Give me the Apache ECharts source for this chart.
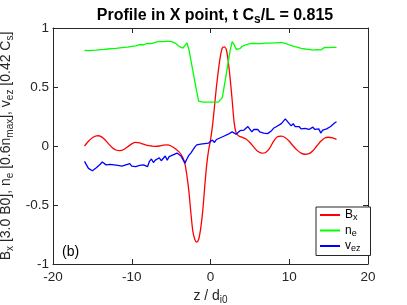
<!DOCTYPE html>
<html><head><meta charset="utf-8">
<script src="https://cdn.jsdelivr.net/npm/echarts@6/dist/echarts.min.js"></script>
<style>html,body{margin:0;padding:0;background:#fff}#c{width:407px;height:305px}</style>
</head><body><div id="c"></div>
<script>
var xTicks = [-20, -10, 0, 10, 20];
var yTicks = [-1, -0.5, 0, 0.5, 1];
var seriesNames = ['Bx', 'ne', 'vez'];

var bxData = [
[-16,0.0],[-15.5,0.04],[-15,0.07],[-14.5,0.085],[-14.25,0.087],[-14,0.084],[-13.5,0.06],[-13,0.022],[-12.5,-0.012],[-12,-0.034],[-11.5,-0.04],[-11,-0.03],[-10.5,-0.006],[-10,0.018],[-9.5,0.03],[-9,0.026],[-8.5,0.015],[-8,0.005],[-7.5,0.0],[-7,-0.004],[-6.5,0.0],[-6,0.008],[-5.5,0.01],[-5,0.0],[-4.5,-0.022],[-4,-0.05],[-3.75,-0.07],[-3.5,-0.1],[-3.25,-0.15],[-3,-0.25],[-2.75,-0.38],[-2.5,-0.56],[-2.25,-0.72],[-2,-0.79],[-1.75,-0.815],[-1.5,-0.79],[-1.25,-0.7],[-1,-0.56],[-0.75,-0.36],[-0.5,-0.17],[-0.25,-0.04],[0,0.05],[0.25,0.17],[0.5,0.33],[0.75,0.5],[1,0.64],[1.25,0.76],[1.5,0.83],[1.75,0.84],[2,0.82],[2.25,0.72],[2.5,0.57],[2.75,0.39],[3,0.2],[3.25,0.11],[3.5,0.09],[3.75,0.08],[4,0.075],[4.5,0.06],[5,0.03],[5.5,-0.01],[6,-0.045],[6.5,-0.06],[7,-0.055],[7.5,-0.02],[8,0.04],[8.5,0.078],[9,0.083],[9.5,0.07],[10,0.04],[10.5,0.0],[11,-0.035],[11.5,-0.06],[12,-0.07],[12.5,-0.065],[13,-0.04],[13.5,0.0],[14,0.04],[14.5,0.068],[15,0.074],[15.5,0.068],[16,0.057]
];

var neData = [
[-16,0.81],[-15.75,0.812],[-15.5,0.808],[-15.25,0.815],[-15,0.81],[-14.75,0.817],[-14.5,0.812],[-14.25,0.82],[-14,0.816],[-13.75,0.822],[-13.5,0.818],[-13.25,0.825],[-13,0.822],[-12.75,0.83],[-12.5,0.826],[-12.25,0.832],[-12,0.828],[-11.75,0.835],[-11.5,0.832],[-11.25,0.84],[-11,0.836],[-10.75,0.842],[-10.5,0.838],[-10.25,0.846],[-10,0.844],[-9.75,0.85],[-9.5,0.848],[-9.25,0.856],[-9,0.86],[-8.75,0.866],[-8.5,0.858],[-8.25,0.865],[-8,0.87],[-7.75,0.875],[-7.5,0.868],[-7.25,0.876],[-7,0.878],[-6.75,0.884],[-6.5,0.886],[-6.25,0.888],[-6,0.884],[-5.75,0.889],[-5.5,0.887],[-5.25,0.884],[-5,0.886],[-4.75,0.88],[-4.5,0.872],[-4.25,0.86],[-4,0.845],[-3.75,0.838],[-3.5,0.83],[-3.25,0.85],[-3,0.875],[-2.75,0.82],[-2.5,0.73],[-2.25,0.64],[-2,0.55],[-1.75,0.46],[-1.5,0.38],[-1.25,0.37],[-1,0.372],[-0.75,0.37],[-0.5,0.371],[-0.25,0.37],[0,0.372],[0.25,0.37],[0.5,0.371],[0.75,0.37],[1,0.372],[1.25,0.375],[1.5,0.41],[1.75,0.51],[2,0.61],[2.25,0.71],[2.5,0.81],[2.75,0.885],[3,0.86],[3.25,0.82],[3.5,0.812],[3.75,0.825],[4,0.845],[4.25,0.855],[4.5,0.858],[4.75,0.865],[5,0.868],[5.25,0.875],[5.5,0.87],[5.75,0.874],[6,0.868],[6.25,0.872],[6.5,0.868],[6.75,0.874],[7,0.872],[7.25,0.876],[7.5,0.872],[7.75,0.876],[8,0.874],[8.25,0.878],[8.5,0.874],[8.75,0.88],[9,0.878],[9.25,0.875],[9.5,0.87],[9.75,0.862],[10,0.856],[10.25,0.852],[10.5,0.846],[10.75,0.84],[11,0.838],[11.25,0.832],[11.5,0.828],[11.75,0.824],[12,0.822],[12.25,0.818],[12.5,0.818],[12.75,0.814],[13,0.812],[13.25,0.81],[13.5,0.816],[13.75,0.82],[14,0.814],[14.25,0.83],[14.5,0.836],[14.75,0.828],[15,0.834],[15.25,0.836],[15.5,0.835],[15.75,0.838],[16,0.836]
];

var vezData = [
[-16,-0.13],[-15.75,-0.16],[-15.5,-0.19],[-15.25,-0.205],[-15,-0.21],[-14.75,-0.2],[-14.5,-0.185],[-14.25,-0.17],[-14,-0.155],[-13.75,-0.135],[-13.5,-0.15],[-13.25,-0.16],[-13,-0.145],[-12.75,-0.155],[-12.5,-0.15],[-12.25,-0.16],[-12,-0.145],[-11.75,-0.165],[-11.5,-0.155],[-11.25,-0.17],[-11,-0.185],[-10.75,-0.16],[-10.5,-0.165],[-10.25,-0.15],[-10,-0.17],[-9.75,-0.155],[-9.5,-0.175],[-9.25,-0.16],[-9,-0.165],[-8.75,-0.175],[-8.5,-0.16],[-8.25,-0.17],[-8,-0.175],[-7.75,-0.13],[-7.5,-0.11],[-7.25,-0.14],[-7,-0.12],[-6.75,-0.13],[-6.5,-0.1],[-6.25,-0.125],[-6,-0.11],[-5.75,-0.085],[-5.5,-0.12],[-5.25,-0.09],[-5,-0.1],[-4.75,-0.075],[-4.5,-0.08],[-4.25,-0.06],[-4,-0.065],[-3.75,-0.085],[-3.5,-0.1],[-3.25,-0.145],[-3,-0.11],[-2.75,-0.08],[-2.5,-0.06],[-2.25,-0.035],[-2,-0.01],[-1.75,0.01],[-1.5,-0.005],[-1.25,0.015],[-1,0.005],[-0.75,0.02],[-0.5,0.01],[-0.25,0.025],[0,0.015],[0.25,0.05],[0.5,0.03],[0.75,0.055],[1,0.05],[1.25,0.07],[1.5,0.055],[1.75,0.085],[2,0.07],[2.25,0.1],[2.5,0.105],[2.75,0.12],[3,0.105],[3.25,0.1],[3.5,0.115],[3.75,0.13],[4,0.115],[4.25,0.135],[4.5,0.145],[4.75,0.165],[5,0.15],[5.25,0.12],[5.5,0.14],[5.75,0.125],[6,0.14],[6.25,0.12],[6.5,0.13],[6.75,0.11],[7,0.125],[7.25,0.105],[7.5,0.115],[7.75,0.13],[8,0.15],[8.25,0.14],[8.5,0.17],[8.75,0.165],[9,0.19],[9.25,0.2],[9.5,0.23],[9.75,0.215],[10,0.19],[10.25,0.17],[10.5,0.19],[10.75,0.165],[11,0.15],[11.25,0.165],[11.5,0.145],[11.75,0.13],[12,0.15],[12.25,0.135],[12.5,0.14],[12.75,0.125],[13,0.16],[13.25,0.14],[13.5,0.13],[13.75,0.145],[14,0.11],[14.25,0.135],[14.5,0.12],[14.75,0.145],[15,0.14],[15.25,0.165],[15.5,0.175],[15.75,0.195],[16,0.205]
];

var FONT = '"Liberation Sans", Arial, Helvetica, sans-serif';
var TXT = '#262626';
var axisLine = {show: true, onZero: false, lineStyle: {color: TXT, width: 1}};
var tickIn = {show: true, inside: true, length: 5, lineStyle: {color: TXT}};
var chart = echarts.init(document.getElementById('c'), null, {renderer: 'canvas'});
var legendLabels = {
  Bx: '{n|B}{s|x}',
  ne: '{n|n}{s|e}',
  vez: '{n|v}{s|ez}'
};
chart.setOption({
  animation: false,
  backgroundColor: '#fff',
  title: {
    text: '{t|Profile in X point, t C}{ts|s}{t|/L = 0.815}',
    left: 210, top: 0, textAlign: 'center',
    textStyle: {
      rich: {
        t: {fontFamily: FONT, fontWeight: 'bold', fontSize: 16, color: '#000'},
        ts: {fontFamily: FONT, fontWeight: 'bold', fontSize: 12, color: '#000', padding: [9, 0, 0, 0]}
      }
    }
  },
  grid: {left: 53, right: 39, top: 28, bottom: 41, containLabel: false, outerBoundsMode: 'none'},
  xAxis: [{
    type: 'value', min: xTicks[0], max: xTicks[xTicks.length - 1], interval: 10,
    axisLine: axisLine, axisTick: tickIn, splitLine: {show: false},
    axisLabel: {color: TXT, fontFamily: FONT, fontSize: 13.5, margin: 6},
    name: '{n|z / d}{s|i0}', nameLocation: 'middle', nameGap: 19,
    nameTextStyle: {rich: {
      n: {fontFamily: FONT, fontSize: 14, color: TXT},
      s: {fontFamily: FONT, fontSize: 10, color: TXT, padding: [8, 0, 0, 0]}
    }}
  }, {
    type: 'value', position: 'top', min: xTicks[0], max: xTicks[xTicks.length - 1], interval: 10,
    axisLine: axisLine, axisTick: tickIn, axisLabel: {show: false}, splitLine: {show: false}
  }],
  yAxis: [{
    type: 'value', min: yTicks[0], max: yTicks[yTicks.length - 1], interval: 0.5,
    axisLine: axisLine, axisTick: tickIn, splitLine: {show: false},
    axisLabel: {color: TXT, fontFamily: FONT, fontSize: 13.5, margin: 4},
    name: '{n|B}{s|x}{n| [3.0 B0], n}{s|e}{n| [0.6n}{s|max}{n|], v}{s|ez}{n| [0.42 C}{s|s}{n|]}',
    nameLocation: 'middle', nameRotate: 90, nameGap: 31,
    nameTextStyle: {rich: {
      n: {fontFamily: FONT, fontSize: 14, color: TXT},
      s: {fontFamily: FONT, fontSize: 10, color: TXT, padding: [8, 0, 0, 0]}
    }}
  }, {
    type: 'value', position: 'right', min: yTicks[0], max: yTicks[yTicks.length - 1], interval: 0.5,
    axisLine: axisLine, axisTick: tickIn, axisLabel: {show: false}, splitLine: {show: false}
  }],
  legend: {
    orient: 'vertical', left: 316, top: 207,
    data: seriesNames,
    icon: 'rect',
    itemWidth: 20, itemHeight: 2, itemGap: 2,
    padding: [2, 10, 2, 4],
    borderColor: TXT, borderWidth: 1, backgroundColor: '#fff',
    formatter: function (n) { return legendLabels[n]; },
    textStyle: {
      rich: {
        n: {fontFamily: FONT, fontSize: 12, color: '#000'},
        s: {fontFamily: FONT, fontSize: 9, color: '#000', padding: [6, 0, 0, 0]}
      }
    }
  },
  graphic: [{
    type: 'text', left: 62, top: 245,
    style: {text: '(b)', font: '14px ' + FONT, fill: '#000'}
  }],
  series: [
    {name: 'Bx', type: 'line', data: bxData, showSymbol: false, symbol: 'none', smooth: 0.25,
     lineStyle: {color: '#ff0000', width: 1.3}, itemStyle: {color: '#ff0000'}},
    {name: 'ne', type: 'line', data: neData, showSymbol: false, symbol: 'none',
     lineStyle: {color: '#00ff00', width: 1.3}, itemStyle: {color: '#00ff00'}},
    {name: 'vez', type: 'line', data: vezData, showSymbol: false, symbol: 'none',
     lineStyle: {color: '#0000ff', width: 1.3}, itemStyle: {color: '#0000ff'}}
  ]
});
</script>
</body></html>
